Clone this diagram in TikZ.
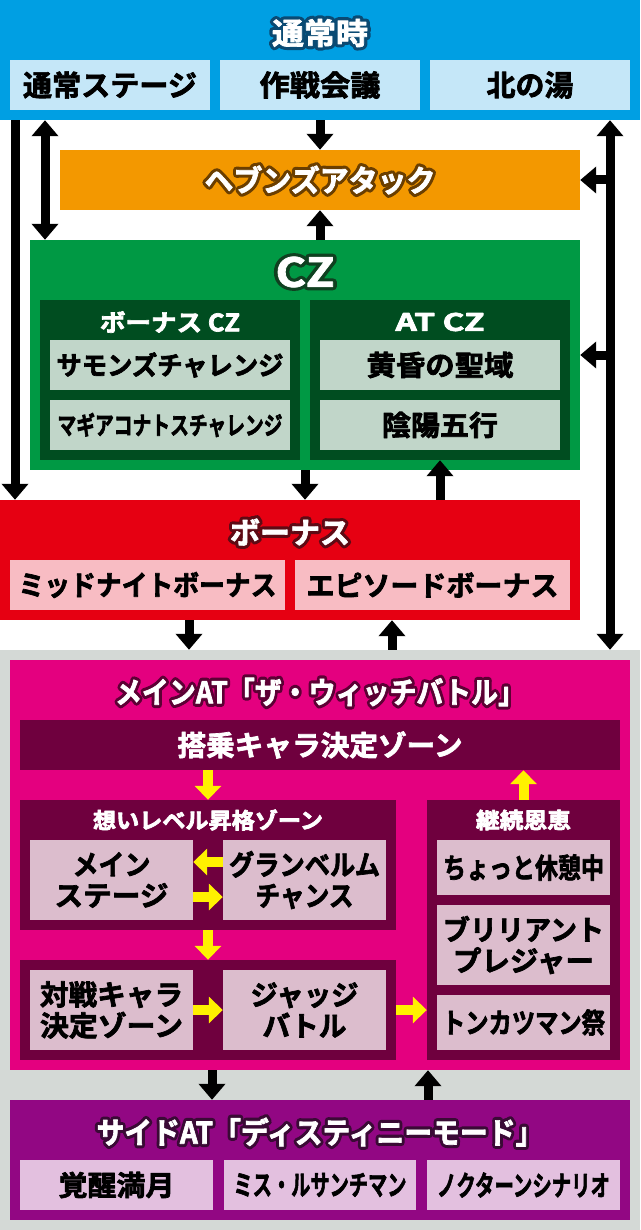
\documentclass[tikz,border=0pt]{standalone}
\usepackage{fontspec}
\setmainfont{Noto Sans CJK JP}[BoldFont={* Bold}]
\usepackage{graphicx}
\usetikzlibrary{arrows.meta}

\definecolor{normalblue}{HTML}{009FE3}
\definecolor{normallight}{HTML}{C5E7F8}
\definecolor{normalrim}{HTML}{0A4A73}
\definecolor{heavenorange}{HTML}{F39800}
\definecolor{heavenrim}{HTML}{6A3E00}
\definecolor{czgreen}{HTML}{009944}
\definecolor{czdark}{HTML}{004D20}
\definecolor{czlight}{HTML}{C1D6C9}
\definecolor{czrim}{HTML}{0F4020}
\definecolor{bonusred}{HTML}{E60012}
\definecolor{bonuspink}{HTML}{F8BCC3}
\definecolor{bonusrim}{HTML}{5E0A14}
\definecolor{atgray}{HTML}{D4D9D6}
\definecolor{mainpink}{HTML}{E4007F}
\definecolor{maindark}{HTML}{6F003E}
\definecolor{mainlight}{HTML}{DCBDCD}
\definecolor{mainrim}{HTML}{5C0034}
\definecolor{sidepurple}{HTML}{920783}
\definecolor{sidelight}{HTML}{E3C0DF}
\definecolor{siderim}{HTML}{3A0A35}
\definecolor{arrowyellow}{HTML}{FFF100}

\newcommand{\heavy}[1]{\special{pdf:literal direct 2 Tr 0.7 w 1 j}#1\special{pdf:literal direct 0 Tr}}
\newcommand{\fitw}[2]{\resizebox{#1pt}{\height}{\heavy{#2}}}
\newcommand{\rimtext}[2]{\leavevmode\rlap{\special{pdf:literal direct 2 Tr 7 w 1 j}\textcolor{#1}{#2}\special{pdf:literal direct 0 Tr}}\heavy{#2}}
\newcommand{\rimw}[3]{\resizebox{#2pt}{\height}{\rimtext{#1}{#3}}}

\tikzset{
  zone/.style={rectangle, inner sep=0pt, draw=none},
  head/.style={inner sep=0pt, text=white, font=\bfseries\fontsize{30}{32}\selectfont},
  note/.style={inner sep=0pt, text=white, font=\bfseries\fontsize{#1}{#1}\selectfont},
  item/.style={zone, text=black, align=center, font=\bfseries\fontsize{#1}{31}\selectfont},
  item/.default=28,
  flow/.style={line width=9pt, -{Triangle[width=26pt,length=16pt]}},
  twoway/.style={line width=9pt, {Triangle[width=26pt,length=16pt]}-{Triangle[width=26pt,length=16pt]}},
  yflow/.style={line width=10pt, draw=arrowyellow, -{Triangle[width=26pt,length=14pt]}}
}

\begin{document}
\begin{tikzpicture}[x=1pt, y=-1pt]
  \useasboundingbox (0,0) rectangle (640,1230);
  \fill[white] (0,0) rectangle (640,1230);

  \node[zone, fill=normalblue, minimum width=640, minimum height=120] (normal) at (320,60) {};
  \node[head] (normalT) at (320,33) {\rimw{normalrim}{96}{通常時}};
  \node[item=29, fill=normallight, minimum width=200, minimum height=50] (n1) at (110,85) {\fitw{174}{通常ステージ}};
  \node[item=29, fill=normallight, minimum width=200, minimum height=50] (n2) at (320,85) {\fitw{121}{作戦会議}};
  \node[item=29, fill=normallight, minimum width=200, minimum height=50] (n3) at (530,85) {\fitw{87}{北の湯}};

  \node[zone, fill=heavenorange, minimum width=520, minimum height=60] (heaven) at (320,180) {};
  \node[head] (heavenT) at (320,180) {\rimw{heavenrim}{231}{ヘブンズアタック}};

  \node[zone, fill=czgreen, minimum width=550, minimum height=230] (cz) at (305,355) {};
  \node[head, font=\bfseries\fontsize{40}{42}\selectfont] (czT) at (305,272) {\rimw{czrim}{59}{CZ}};
  \node[zone, fill=czdark, minimum width=260, minimum height=160] (czB) at (170,380) {};
  \node[zone, fill=czdark, minimum width=260, minimum height=160] (czA) at (440,380) {};
  \node[note=24] (czBT) at (170,322) {\fitw{140}{ボーナス CZ}};
  \node[note=24] (czAT) at (440,322) {\fitw{89}{AT CZ}};
  \node[item=26, fill=czlight, minimum width=240, minimum height=50] (cz1) at (170,365) {\fitw{227}{サモンズチャレンジ}};
  \node[item=25, fill=czlight, minimum width=240, minimum height=50] (cz2) at (170,425) {\fitw{225}{マギアコナトスチャレンジ}};
  \node[item, fill=czlight, minimum width=240, minimum height=50] (cz3) at (440,365) {\fitw{147}{黄昏の聖域}};
  \node[item, fill=czlight, minimum width=240, minimum height=50] (cz4) at (440,425) {\fitw{116}{陰陽五行}};

  \node[zone, fill=bonusred, minimum width=580, minimum height=120] (bonus) at (290,560) {};
  \node[head] (bonusT) at (290,532) {\rimw{bonusrim}{120}{ボーナス}};
  \node[item, fill=bonuspink, minimum width=275, minimum height=50] (b1) at (147.5,585) {\fitw{258}{ミッドナイトボーナス}};
  \node[item, fill=bonuspink, minimum width=275, minimum height=50] (b2) at (432.5,585) {\fitw{252}{エピソードボーナス}};

  \node[zone, fill=atgray, minimum width=640, minimum height=580] (atbg) at (320,940) {};

  \node[zone, fill=mainpink, minimum width=620, minimum height=410] (mainat) at (320,865) {};
  \node[head] (mainT) at (320,692) {\rimw{mainrim}{410}{メインAT「ザ・ウィッチバトル」}};
  \node[zone, fill=maindark, minimum width=600, minimum height=50, text=white, font=\bfseries\fontsize{28}{30}\selectfont] (ride) at (320,745) {\fitw{285}{搭乗キャラ決定ゾーン}};

  \node[zone, fill=maindark, minimum width=376, minimum height=130] (omoi) at (208,865) {};
  \node[note=22] (omoiT) at (208,820) {\fitw{230}{想いレベル昇格ゾーン}};
  \node[item, fill=mainlight, minimum width=163, minimum height=80] (stage) at (111.5,880) {\fitw{78}{メイン}\\\fitw{114}{ステージ}};
  \node[item, fill=mainlight, minimum width=163, minimum height=80] (gran) at (304.5,880) {\fitw{151}{グランベルム}\\\fitw{98}{チャンス}};

  \node[zone, fill=maindark, minimum width=376, minimum height=100] (vs) at (208,1010) {};
  \node[item, fill=mainlight, minimum width=163, minimum height=80] (vs1) at (111.5,1010) {\fitw{143}{対戦キャラ}\\\fitw{143}{決定ゾーン}};
  \node[item, fill=mainlight, minimum width=163, minimum height=80] (judge) at (304.5,1010) {\fitw{108}{ジャッジ}\\\fitw{84}{バトル}};

  \node[zone, fill=maindark, minimum width=193, minimum height=260] (keizoku) at (523.5,930) {};
  \node[note=22] (keiT) at (523.5,820) {\fitw{95}{継続恩恵}};
  \node[item, fill=mainlight, minimum width=173, minimum height=55] (k1) at (523.5,867.5) {\fitw{161}{ちょっと休憩中}};
  \node[item, fill=mainlight, minimum width=173, minimum height=80] (k2) at (523.5,945) {\fitw{161}{ブリリアント}\\\fitw{141}{プレジャー}};
  \node[item, fill=mainlight, minimum width=173, minimum height=55] (k3) at (523.5,1022.5) {\fitw{163}{トンカツマン祭}};

  \node[zone, fill=sidepurple, minimum width=620, minimum height=120] (side) at (320,1160) {};
  \node[head] (sideT) at (320,1132) {\rimw{siderim}{447}{サイドAT「ディスティニーモード」}};
  \node[item, fill=sidelight, minimum width=193, minimum height=50] (s1) at (116.5,1185) {\fitw{116}{覚醒満月}};
  \node[item, fill=sidelight, minimum width=192, minimum height=50] (s2) at (320,1185) {\fitw{173}{ミス・ルサンチマン}};
  \node[item, fill=sidelight, minimum width=193, minimum height=50] (s3) at (523.5,1185) {\fitw{173}{ノクターンシナリオ}};

  \coordinate (leftrail) at (15,0);
  \coordinate (dblrail) at (45,0);
  \coordinate (rightrail) at (610,0);
  \coordinate (bdown) at (189,0);
  \coordinate (bup) at (392,0);
  \coordinate (sdown) at (212,0);
  \coordinate (sideup) at (428,0);
  \coordinate (backrow) at (0,862);
  \coordinate (fwdrow) at (0,897);

  \draw[flow] (normal.south -| leftrail) -- (bonus.north -| leftrail);
  \draw[twoway] (normal.south -| dblrail) -- (cz.north -| dblrail);
  \draw[flow] (normal.south -| heaven.north) -- (heaven.north);
  \draw[flow] (cz.north -| heaven.south) -- (heaven.south);
  \draw[twoway] (normal.south -| rightrail) -- (atbg.north -| rightrail);
  \draw[flow] (heaven.east -| rightrail) -- (heaven.east);
  \draw[flow] (cz.east -| rightrail) -- (cz.east);
  \draw[flow] (cz.south) -- (bonus.north -| cz.south);
  \draw[flow] (bonus.north -| czA.south) -- (czA.south);
  \draw[flow] (bonus.south -| bdown) -- (atbg.north -| bdown);
  \draw[flow] (atbg.north -| bup) -- (bonus.south -| bup);
  \draw[flow] (mainat.south -| sdown) -- (side.north -| sdown);
  \draw[flow] (side.north -| sideup) -- (mainat.south -| sideup);

  \draw[yflow] (ride.south -| omoi.north) -- (omoi.north);
  \draw[yflow] (keizoku.north) -- (ride.south -| keizoku.north);
  \draw[yflow] (gran.west |- backrow) -- (stage.east |- backrow);
  \draw[yflow] (stage.east |- fwdrow) -- (gran.west |- fwdrow);
  \draw[yflow] (omoi.south) -- (vs.north);
  \draw[yflow] (vs1.east) -- (judge.west);
  \draw[yflow] (vs.east) -- (keizoku.west |- vs.east);
\end{tikzpicture}
\end{document}
